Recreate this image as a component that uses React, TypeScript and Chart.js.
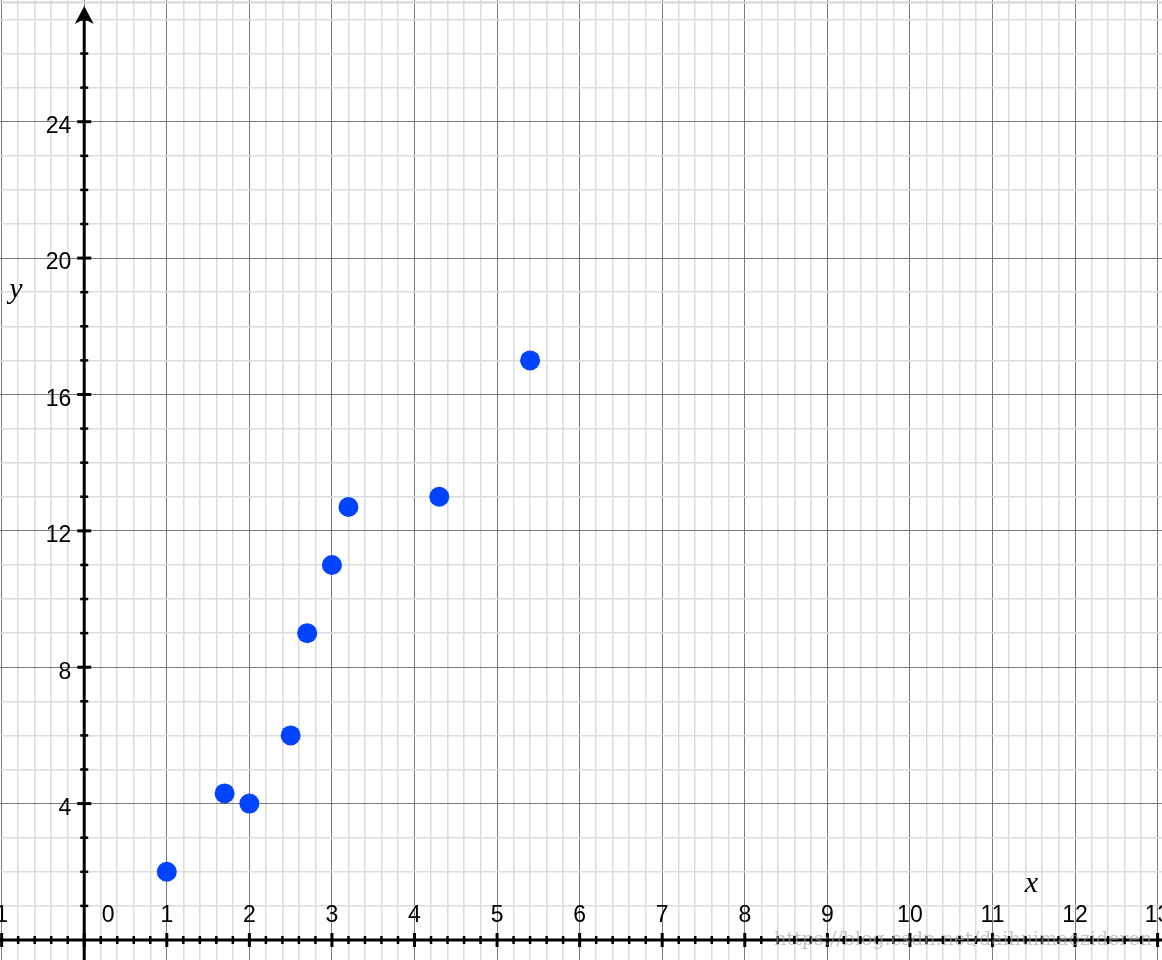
import React, { useEffect, useRef } from "react";
import { Chart, registerables } from "chart.js";

Chart.register(...registerables);

// ---- data ----
const xValues = [1, 1.7, 2, 2.5, 2.7, 3, 3.2, 4.3, 5.4];
const yValues = [2, 4.3, 4, 6, 9, 11, 12.7, 13, 17];
const xTickLabels = [-1, 0, 1, 2, 3, 4, 5, 6, 7, 8, 9, 10, 11, 12, 13];
const yTickLabels = [4, 8, 12, 16, 20, 24];
const xAxisTitle = "x";
const yAxisTitle = "y";
const watermark = "https://blog.csdn.net/daihuimaozideren";

const X_MIN = -1.02;
const X_MAX = 13.053;
const Y_MIN = -0.587;
const Y_MAX = 27.57;

const W = 1162;
const H = 960;

const isInt = (v: number) => Math.abs(v - Math.round(v)) < 1e-6;

const axesPlugin = {
  id: "geoAxes",
  beforeDatasetsDraw(chart: any) {
    const { ctx, chartArea, scales } = chart;
    const xs = scales.x;
    const ys = scales.y;
    const ox = xs.getPixelForValue(0);
    const oy = ys.getPixelForValue(0);
    const line = (x1: number, y1: number, x2: number, y2: number) => {
      ctx.beginPath();
      ctx.moveTo(x1, y1);
      ctx.lineTo(x2, y2);
      ctx.stroke();
    };
    ctx.save();
    // top border
    ctx.strokeStyle = "#d6d6d6";
    ctx.lineWidth = 2;
    line(0, 2.5, W, 2.5);

    // x axis
    ctx.strokeStyle = "#000";
    ctx.lineWidth = 3;
    line(chartArea.left, oy, chartArea.right, oy);
    for (let i = -5; i <= 66; i++) {
      const v = i / 5;
      const px = xs.getPixelForValue(v);
      const major = i % 5 === 0;
      const h = major ? 7 : 4;
      ctx.lineWidth = major ? 3 : 2.5;
      line(px, oy - h, px, oy + h);
    }
    // y axis
    ctx.lineWidth = 3;
    line(ox, chartArea.bottom, ox, chartArea.top + 18);
    for (let v = 1; v <= 27; v++) {
      const py = ys.getPixelForValue(v);
      const major = v % 4 === 0;
      const h = major ? 7 : 4;
      ctx.lineWidth = major ? 3 : 2.5;
      line(ox - h, py, ox + h, py);
    }
    // arrow head
    const tip = chartArea.top + 6;
    ctx.fillStyle = "#000";
    ctx.beginPath();
    ctx.moveTo(ox, tip);
    ctx.lineTo(ox + 9.5, tip + 18);
    ctx.lineTo(ox, tip + 13);
    ctx.lineTo(ox - 9.5, tip + 18);
    ctx.closePath();
    ctx.fill();

    // tick labels
    ctx.font = '23px "Liberation Sans", Arial, sans-serif';
    ctx.fillStyle = "#000";
    ctx.textBaseline = "middle";
    for (const v of xTickLabels) {
      const px = xs.getPixelForValue(v);
      if (v === 0) {
        ctx.textAlign = "center";
        ctx.fillText("0", ox + 24, oy - 24);
      } else if (v < 0) {
        const digits = String(Math.abs(v));
        const dw = ctx.measureText(digits).width;
        ctx.textAlign = "right";
        ctx.fillText(String(v), px + dw / 2, oy - 24);
      } else {
        ctx.textAlign = "center";
        ctx.fillText(String(v), px, oy - 24);
      }
    }
    ctx.textAlign = "right";
    for (const v of yTickLabels) {
      const py = ys.getPixelForValue(v);
      ctx.fillText(String(v), ox - 13, py + 5);
    }

    // axis titles
    ctx.font = 'italic 30px "Liberation Serif", "Times New Roman", serif';
    ctx.textAlign = "center";
    ctx.fillText(xAxisTitle, xs.getPixelForValue(11.47), oy - 56);
    ctx.fillText(yAxisTitle, 16, ys.getPixelForValue(19.05));
    ctx.restore();
  },
  afterDraw(chart: any) {
    const { ctx, scales } = chart;
    const oy = scales.y.getPixelForValue(0);
    ctx.save();
    ctx.font = '19px "DejaVu Serif", "Liberation Serif", serif';
    ctx.fillStyle = "rgba(160,160,160,0.6)";
    ctx.textAlign = "right";
    ctx.textBaseline = "middle";
    ctx.fillText(watermark, 1152, oy);
    ctx.restore();
  },
};

export default function App() {
  const canvasRef = useRef<HTMLCanvasElement | null>(null);

  useEffect(() => {
    if (!canvasRef.current) return;
    const points = xValues.map((x, i) => ({ x, y: yValues[i] }));
    const chart = new Chart(canvasRef.current, {
      type: "scatter",
      data: {
        datasets: [
          {
            data: points,
            backgroundColor: "#0044ff",
            borderWidth: 0,
            pointRadius: 10,
            pointHoverRadius: 10,
          },
        ],
      },
      options: {
        responsive: false,
        animation: false,
        layout: { padding: 0, autoPadding: false },
        plugins: {
          legend: { display: false },
          tooltip: { enabled: false },
        },
        scales: {
          x: {
            type: "linear",
            min: X_MIN,
            max: X_MAX,
            border: { display: false },
            ticks: { display: false, stepSize: 0.2, includeBounds: false, padding: 0 },
            grid: {
              drawTicks: false,
              lineWidth: (c: any) => (isInt(c.tick?.value ?? 0.5) ? 1 : 1.5),
              color: (c: any) =>
                isInt(c.tick?.value ?? 0.5) ? "#7a7a7a" : "#dcdcdc",
            },
          },
          y: {
            type: "linear",
            min: Y_MIN,
            max: Y_MAX,
            border: { display: false },
            ticks: { display: false, stepSize: 1, includeBounds: false, padding: 0 },
            grid: {
              drawTicks: false,
              lineWidth: (c: any) => {
                const v = c.tick?.value ?? 0.5;
                return isInt(v) && Math.round(v) % 4 === 0 ? 1 : 1.5;
              },
              color: (c: any) => {
                const v = c.tick?.value ?? 0.5;
                return isInt(v) && Math.round(v) % 4 === 0 ? "#7a7a7a" : "#dcdcdc";
              },
            },
          },
        },
      },
      plugins: [axesPlugin],
    });
    return () => chart.destroy();
  }, []);

  return (
    <div style={{ position: "fixed", left: 0, top: 0, width: W, height: H, background: "#fff" }}>
      <canvas ref={canvasRef} width={W} height={H} style={{ display: "block" }} />
    </div>
  );
}
